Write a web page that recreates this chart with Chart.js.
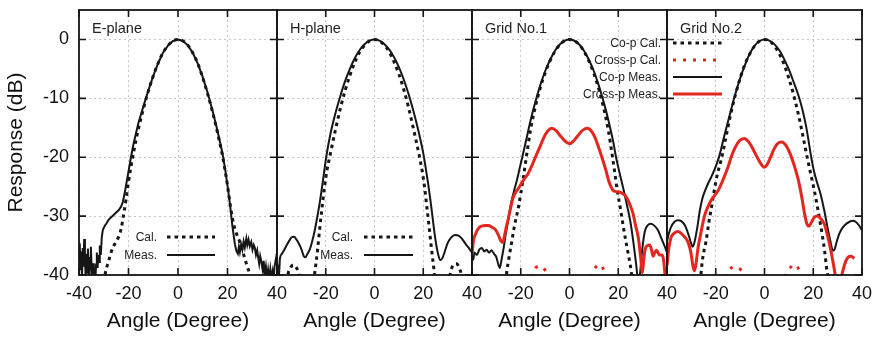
<!DOCTYPE html>
<html>
<head>
<meta charset="utf-8">
<title>Radiation patterns</title>
<script src="https://cdn.jsdelivr.net/npm/chart.js@4.4.1/dist/chart.umd.min.js"></script>
<style>
  body { margin: 0; background: #fff; }
  #wrap { position: relative; width: 877px; height: 338px; }
  #wrap canvas { position: absolute; left: 0; top: 0; }
</style>
</head>
<body>
<div id="wrap">
  <canvas id="panel0" width="877" height="338"></canvas>
  <canvas id="panel1" width="877" height="338"></canvas>
  <canvas id="panel2" width="877" height="338"></canvas>
  <canvas id="panel3" width="877" height="338"></canvas>
</div>
<script>
const panelNames = ["E-plane", "H-plane", "Grid No.1", "Grid No.2"];
const angleTicks = [-40, -20, 0, 20, 40];
const responseTicks = [-40, -30, -20, -10, 0];

// [angle (deg), response (dB)] pairs; null breaks the line
const ePlaneCal = [[-31,-45],[-29.5,-40],[-28,-37.6],[-26.5,-35.5],[-24.5,-34.0],[-23,-32.2],[-22,-29.8],[-21,-27.2],[-20,-24.2],[-19,-21.6],[-18,-19.3],[-16,-15.2],[-14,-11.8],[-12,-8.8],[-10,-6.2],[-8,-4.0],[-6,-2.2],[-4,-1.0],[-2,-0.25],[0,0],[2,-0.25],[4,-1.0],[6,-2.3],[8,-4.1],[10,-6.5],[12,-9.3],[14,-12.4],[16,-15.9],[18,-19.8],[19,-22.2],[20,-24.8],[21,-27.8],[22,-30.4],[23,-32.2],[24,-33.4],[25,-34.4],[26,-35.8],[27,-37.2],[28,-38.6],[29,-40],[30.5,-45]];
const ePlaneMeas = [[-40,-37.5],[-39.7,-34.6],[-39.4,-39.2],[-39.1,-36.0],[-38.8,-40.6],[-38.5,-35.4],[-38.2,-38.6],[-37.9,-33.9],[-37.6,-37.2],[-37.3,-40.6],[-37.0,-36.4],[-36.7,-39.6],[-36.4,-35.5],[-36.1,-38.2],[-35.8,-41],[-35.5,-37.1],[-35.2,-35.2],[-34.9,-38.6],[-34.6,-40.6],[-34.3,-38.0],[-34.0,-41],[-33.7,-39.4],[-33.4,-41],[-33.1,-38.2],[-32.8,-36.2],[-32.5,-38.8],[-32.2,-36.6],[-31.9,-37.8],[-31.6,-35.0],[-31.2,-36.6],[-30.8,-33.6],[-30.4,-32.4],[-30,-32.0],[-29.5,-31.6],[-29,-31.3],[-28,-30.6],[-27,-30.2],[-26,-29.8],[-25,-29.4],[-24,-29.0],[-23,-28.4],[-22.3,-27.6],[-21.5,-26.0],[-21,-24.8],[-20,-22.4],[-19,-20.0],[-18,-17.8],[-16,-14.2],[-14,-11.4],[-12,-8.7],[-10,-6.2],[-8,-4.0],[-6,-2.2],[-4,-1.0],[-2,-0.25],[0,0],[2,-0.25],[4,-1.0],[6,-2.3],[8,-4.1],[10,-6.4],[12,-9.1],[14,-12.2],[16,-15.6],[18,-19.4],[19,-21.9],[20,-24.8],[21,-28.0],[22,-31.8],[23,-34.8],[23.6,-35.9],[24.2,-36.4],[24.6,-35.2],[25,-36.1],[25.5,-34.8],[26,-35.7],[26.5,-34.3],[27,-35.3],[27.6,-33.8],[28,-34.9],[28.5,-34.0],[29,-35.1],[29.6,-34.4],[30.1,-35.7],[30.6,-34.9],[31,-35.3],[31.5,-36.6],[32,-35.8],[32.4,-37.0],[32.8,-38.1],[33.2,-36.8],[33.7,-37.8],[34.2,-39.1],[34.6,-37.6],[35,-39.8],[35.5,-38.5],[36,-40.6],[36.4,-39.2],[36.8,-40.8],[37.3,-39.0],[37.7,-40.6],[38.2,-39.4],[38.6,-41],[39,-38.6],[39.5,-37.4],[40,-36.2]];

const hPlaneCal = [[-36.5,-45],[-35.5,-40],[-34.5,-38.8],[-33.3,-38.3],[-32.3,-38.6],[-31.2,-39.6],[-30.3,-41.5],[-29.5,null],[-25.5,-45],[-24.6,-40],[-24,-38],[-23.3,-35.5],[-22.5,-32.2],[-21.5,-28.5],[-20.5,-25.0],[-19.5,-22.2],[-18.3,-19.8],[-16,-15.3],[-14,-11.7],[-12,-8.6],[-10,-6.0],[-8,-3.8],[-6,-2.1],[-4,-0.95],[-2,-0.24],[0,0],[2,-0.24],[4,-0.95],[6,-2.1],[8,-3.8],[10,-5.9],[12,-8.5],[14,-11.6],[16,-15.2],[18.4,-19.8],[19.5,-22.2],[20.5,-25.0],[21.5,-28.5],[22.5,-32.2],[23.5,-36],[24.6,-40],[25.5,-45],[29.5,null],[30.3,-41.5],[31.4,-39.2],[32.6,-38.2],[33.8,-38.1],[34.8,-38.9],[35.8,-40.5],[36.6,-45]];
const hPlaneMeas = [[-40,-37.6],[-39.8,-40.6],[-39.5,-38.4],[-39.2,-40.2],[-38.8,-37.2],[-38,-36.4],[-37,-35.7],[-36,-34.9],[-35,-34.2],[-34,-33.6],[-33,-33.5],[-32,-34.0],[-31,-34.7],[-30,-35.6],[-29,-36.8],[-28.3,-37.0],[-27.5,-36.4],[-26.5,-35.6],[-25.5,-34.2],[-24.5,-32.4],[-23.5,-30.2],[-22.5,-27.8],[-21.5,-25.0],[-20.5,-22.0],[-19.5,-19.2],[-18,-15.9],[-16,-12.5],[-14,-9.6],[-12,-7.0],[-10,-4.9],[-8,-3.1],[-6,-1.75],[-4,-0.78],[-2,-0.2],[0,0],[2,-0.2],[4,-0.76],[6,-1.7],[8,-3.0],[10,-4.7],[12,-6.8],[14,-9.3],[16,-12.2],[18,-15.5],[20,-19.3],[21,-21.8],[22,-24.5],[23,-27.5],[24,-30.8],[25,-34.0],[26,-36.3],[27,-37.5],[28,-37.0],[29,-35.8],[30,-34.6],[31.5,-33.6],[33,-33.2],[34.5,-33.3],[36,-33.9],[37.5,-34.8],[39,-35.6],[40,-36.2]];

const grid1CoCal = [[-27,-45],[-25.8,-39.7],[-24.8,-37],[-23.8,-34.6],[-22.5,-31.5],[-21,-28.6],[-20,-26.2],[-19,-23.6],[-18,-20.8],[-16,-15.4],[-14,-11.4],[-12,-8.2],[-10,-5.7],[-8,-3.65],[-6,-2.05],[-4,-0.9],[-2,-0.23],[0,0],[2,-0.23],[4,-0.9],[6,-2.05],[8,-3.7],[10,-5.8],[12,-8.4],[14,-11.6],[16,-15.6],[17.5,-19.6],[18.5,-22.4],[19.5,-25.4],[21,-29],[22,-31.6],[23,-34],[24.1,-36.4],[25.4,-39.7],[26.5,-45]];
const grid1CrossCal = [[-17,-42],[-15.5,-40],[-14,-38.8],[-12,-38.5],[-10.5,-38.9],[-9,-40],[-7.5,-42],[0,null],[7.5,-42],[9,-40],[10.5,-38.8],[12.3,-38.2],[13.5,-38.7],[14.8,-40],[16,-42]];
const grid1CoMeas = [[-40,-36.8],[-39.5,-37.4],[-39,-36.2],[-38,-36.6],[-37,-35.7],[-36,-35.4],[-35,-36.0],[-34,-35.7],[-33,-36.2],[-32,-35.8],[-31,-36.4],[-30,-37.0],[-29.2,-38.2],[-28.6,-38.8],[-27.8,-37.2],[-27,-35.4],[-26.2,-33.2],[-25.1,-30.6],[-24,-27.9],[-22.8,-25.8],[-21.5,-23.8],[-20.3,-21.6],[-19.5,-20.2],[-18,-17.5],[-16,-13.8],[-14,-10.6],[-12,-7.8],[-10,-5.4],[-8,-3.5],[-6,-1.95],[-4,-0.86],[-2,-0.22],[0,0],[2,-0.22],[4,-0.86],[6,-1.95],[8,-3.5],[10,-5.4],[12,-7.8],[14,-10.6],[16,-13.8],[18,-17.5],[19,-19.8],[20.5,-22.6],[22,-25.2],[23.5,-28.0],[25,-31.0],[26.2,-34.4],[27.4,-38.4],[28.2,-41],[29,-39.5],[29.8,-35.8],[30.9,-32.6],[32,-31.6],[33.4,-31.3],[35,-31.7],[36.3,-32.4],[37.7,-33.8],[39.1,-35.2],[40,-36.2]];
const grid1CrossMeas = [[-40,-36.6],[-39.5,-34.4],[-38.5,-33.0],[-37.2,-32.0],[-36,-31.7],[-34.5,-31.6],[-33.3,-31.6],[-31.8,-31.9],[-30.4,-32.3],[-29.2,-33.2],[-28.2,-34.2],[-27.4,-34.5],[-26.6,-33.2],[-25.8,-31.6],[-25.1,-30.4],[-24,-28.3],[-23.1,-26.8],[-22,-25.9],[-20.8,-25.2],[-19.5,-24.3],[-18.2,-23.5],[-17,-22.8],[-15.4,-21.4],[-13.8,-19.8],[-12.2,-18.3],[-10.6,-16.7],[-9,-15.6],[-7.2,-15.1],[-5.5,-15.5],[-3.5,-16.5],[-1.5,-17.4],[0,-17.7],[1.5,-17.3],[3.5,-16.3],[5.5,-15.4],[7.4,-15.1],[9.2,-15.7],[10.6,-16.8],[12,-18.4],[13.5,-20.3],[15,-22.3],[16,-23.9],[17,-25.0],[17.8,-25.6],[18.8,-25.8],[20.1,-25.9],[21.5,-26.1],[22.8,-26.5],[24,-27.3],[25.2,-28.5],[26.1,-29.6],[27,-31.4],[28.2,-33.6],[29.2,-37.0],[29.9,-39.6],[30.5,-37.2],[31,-35.7],[32,-35.0],[32.9,-34.9],[33.7,-35.8],[34.3,-36.8],[35,-36.2],[35.7,-35.8],[36.4,-36.3],[37,-36.6],[37.8,-36.6],[38.5,-37.2],[39.2,-40],[39.8,-43]];

const grid2CoCal = [[-27,-45],[-26.1,-40],[-25.3,-37],[-24,-34.3],[-22.8,-31],[-21.8,-28.6],[-20.6,-25.6],[-19.3,-22.8],[-17.8,-20.5],[-16,-17.0],[-14,-12.9],[-12,-9.5],[-10,-6.6],[-8,-4.2],[-6,-2.4],[-4,-1.06],[-2,-0.26],[0,0],[2,-0.26],[4,-1.06],[6,-2.4],[8,-4.2],[10,-6.6],[12,-9.5],[14,-12.9],[16,-16.9],[17.8,-20.6],[19,-22.9],[20.4,-25.6],[21.7,-28.4],[22.8,-31],[23.8,-33.5],[24.7,-36],[25.4,-38.6],[26.2,-41],[27,-45]];
const grid2CrossCal = [[-17.5,-42],[-15.8,-40],[-14,-38.9],[-12,-38.6],[-10,-39],[-8.3,-40],[-7,-42],[0,null],[7.5,-42],[8.8,-40],[10.5,-38.8],[12.3,-38.2],[13.5,-38.6],[14.9,-40],[16.2,-42]];
const grid2CoMeas = [[-40,-34.3],[-39.2,-32.9],[-38.4,-31.9],[-37,-31.0],[-35.5,-30.7],[-34,-30.9],[-32.6,-31.6],[-31.3,-33.0],[-30.2,-34.5],[-29.5,-35.2],[-28.7,-34.4],[-27.6,-32.0],[-26.5,-29.0],[-25.4,-26.9],[-24.3,-25.6],[-23.2,-24.5],[-22,-23.5],[-20.6,-22.2],[-19.5,-21.0],[-18.4,-19.6],[-17,-17.2],[-15.5,-14.8],[-14,-12.4],[-12,-9.3],[-10,-6.6],[-8,-4.3],[-6,-2.4],[-4,-1.05],[-2,-0.26],[0,0],[2,-0.2],[4,-0.8],[6,-1.8],[8,-3.3],[10,-5.1],[12,-7.3],[14,-9.6],[15.5,-11.8],[17,-14.6],[18,-17.0],[19,-19.6],[20.2,-22.2],[21.5,-24.2],[23.1,-26.4],[24.5,-29],[25.8,-31.8],[27,-34.2],[28.1,-35.9],[28.8,-35.6],[29.6,-34.4],[30.5,-33.2],[31.5,-32.3],[33,-31.5],[34.7,-31.0],[36.2,-30.8],[37.5,-31.0],[38.8,-31.6],[40,-32.4]];
const grid2CrossMeas = [[-40,-38.4],[-39.3,-35.6],[-38.4,-33.7],[-37,-32.9],[-35.5,-32.6],[-34,-33.0],[-32.6,-33.6],[-31.3,-34.5],[-30.2,-36.2],[-29.3,-38.6],[-28.7,-39.3],[-28,-37.8],[-27.2,-35.2],[-26.3,-33.3],[-25.4,-31.4],[-24.5,-29.8],[-23.4,-28.6],[-22,-27.4],[-20.3,-26.4],[-18.8,-25.5],[-17.5,-24.3],[-16.2,-23.0],[-15,-21.7],[-13.5,-19.8],[-12,-18.3],[-10.3,-17.2],[-8.3,-16.8],[-6.5,-17.4],[-4.5,-18.8],[-2.5,-20.4],[-1,-21.4],[0,-21.7],[1,-21.3],[2.5,-20.0],[3.7,-18.8],[5.3,-17.7],[7.1,-17.4],[8.8,-18.0],[10.5,-19.4],[12.2,-21.4],[13.9,-23.9],[15.3,-26.8],[16.4,-29.5],[17.3,-31.2],[18.3,-31.7],[19.3,-31.0],[20.5,-30.2],[21.7,-30.0],[23,-30.4],[24.5,-31.3],[25.8,-33.2],[27.2,-35.8],[28.2,-38],[28.9,-39.7],[29.6,-41.5],[31,-41.5],[32,-39.5],[33.4,-37.6],[34.5,-36.9],[35.6,-36.8],[36.8,-37.2]];

const FONT = "'Liberation Sans', Arial, Helvetica, sans-serif";
const BLACK = "#161616";
const RED = "#e3261e";

const lineStyles = {
  coCal: { borderColor: BLACK, borderWidth: 3, borderDash: [3.5, 4] },
  crossCal: { borderColor: RED, borderWidth: 3, borderDash: [3, 7] },
  coMeas: { borderColor: BLACK, borderWidth: 2 },
  crossMeas: { borderColor: RED, borderWidth: 3 },
};

// plot-area edges in page pixels
const panelLeft = [79, 277, 472, 667];
const panelRight = [277, 472, 667, 862];

const panels = [
  {
    series: [
      { label: "Cal.", data: ePlaneCal, style: "coCal" },
      { label: "Meas.", data: ePlaneMeas, style: "coMeas", raw: true },
    ],
    legend: { textRight: 157, lineFrom: 167, lineTo: 215, rows: [237, 255] },
  },
  {
    series: [
      { label: "Cal.", data: hPlaneCal, style: "coCal" },
      { label: "Meas.", data: hPlaneMeas, style: "coMeas" },
    ],
    legend: { textRight: 353, lineFrom: 364, lineTo: 413, rows: [237, 255] },
  },
  {
    series: [
      { label: "Co-p Cal.", data: grid1CoCal, style: "coCal" },
      { label: "Cross-p Cal.", data: grid1CrossCal, style: "crossCal" },
      { label: "Co-p Meas.", data: grid1CoMeas, style: "coMeas" },
      { label: "Cross-p Meas.", data: grid1CrossMeas, style: "crossMeas" },
    ],
  },
  {
    series: [
      { label: "Co-p Cal.", data: grid2CoCal, style: "coCal" },
      { label: "Cross-p Cal.", data: grid2CrossCal, style: "crossCal" },
      { label: "Co-p Meas.", data: grid2CoMeas, style: "coMeas" },
      { label: "Cross-p Meas.", data: grid2CrossMeas, style: "crossMeas" },
    ],
    legend: { textRight: 661, lineFrom: 673, lineTo: 722, rows: [43, 60, 77, 94] },
  },
];

// frame, inward ticks, panel name and key
const decorations = {
  id: "decorations",
  afterDraw(chart, args, opts) {
    const { ctx, chartArea: a, scales } = chart;
    const panel = panels[opts.index];
    ctx.save();
    ctx.strokeStyle = BLACK;
    ctx.lineWidth = 1.6;
    ctx.beginPath();
    angleTicks.forEach((v) => {
      const px = scales.x.getPixelForValue(v);
      ctx.moveTo(px, a.bottom); ctx.lineTo(px, a.bottom - 7);
      ctx.moveTo(px, a.top); ctx.lineTo(px, a.top + 7);
    });
    responseTicks.forEach((v) => {
      const py = scales.y.getPixelForValue(v);
      ctx.moveTo(a.left, py); ctx.lineTo(a.left + 7, py);
      ctx.moveTo(a.right, py); ctx.lineTo(a.right - 7, py);
    });
    ctx.stroke();
    ctx.lineWidth = 1.8;
    ctx.strokeRect(a.left, a.top, a.right - a.left, a.bottom - a.top);

    ctx.fillStyle = "#222";
    ctx.font = "14.5px " + FONT;
    ctx.textBaseline = "middle";
    ctx.textAlign = "left";
    ctx.fillText(panelNames[opts.index], a.left + 13, 29);

    const key = panel.legend;
    if (key) {
      ctx.font = "12px " + FONT;
      ctx.textAlign = "right";
      panel.series.forEach((s, i) => {
        const y = key.rows[i];
        const st = lineStyles[s.style];
        ctx.fillStyle = "#222";
        ctx.fillText(s.label, key.textRight, y + 1);
        ctx.beginPath();
        ctx.strokeStyle = st.borderColor;
        ctx.lineWidth = st.borderWidth;
        ctx.setLineDash(st.borderDash || []);
        ctx.moveTo(key.lineFrom, y);
        ctx.lineTo(key.lineTo, y);
        ctx.stroke();
        ctx.setLineDash([]);
      });
    }
    ctx.restore();
  },
};

const drawOrder = { crossMeas: 0, coMeas: 1, crossCal: 2, coCal: 3 };

panels.forEach((panel, index) => {
  const datasets = panel.series.map((s) => ({
    label: s.label,
    data: s.data.map(([x, y]) => ({ x, y })),
    ...lineStyles[s.style],
    borderCapStyle: "butt",
    pointRadius: 0,
    fill: false,
    spanGaps: false,
    cubicInterpolationMode: s.raw ? "default" : "monotone",
    order: drawOrder[s.style],
  }));

  new Chart(document.getElementById("panel" + index), {
    type: "line",
    data: { datasets },
    plugins: [decorations],
    options: {
      responsive: false,
      animation: false,
      events: [],
      layout: {
        padding: {
          left: index === 0 ? 0 : panelLeft[index],
          right: 877 - panelRight[index],
          top: 10,
          bottom: 0,
        },
      },
      plugins: {
        legend: { display: false },
        tooltip: { enabled: false },
        decorations: { index },
      },
      scales: {
        x: {
          type: "linear",
          min: -40,
          max: 40,
          afterBuildTicks: (scale) => {
            scale.ticks = angleTicks.map((v) => ({ value: v }));
          },
          afterFit: (scale) => {
            scale.height = 63;
            scale.paddingLeft = 0;
            scale.paddingRight = 0;
          },
          ticks: {
            padding: 8,
            color: "#111",
            font: { family: FONT, size: 18 },
            maxRotation: 0,
            callback: (v) => (index > 0 && v === -40 ? "" : String(v)),
          },
          grid: { color: "#c4c4c4", lineWidth: 1, drawTicks: false },
          border: { display: false, dash: [2, 3] },
          title: {
            display: true,
            text: "Angle (Degree)",
            color: "#111",
            font: { family: FONT, size: 21 },
            padding: { top: 0, bottom: 4 },
          },
        },
        y: {
          min: -40,
          max: 5,
          afterBuildTicks: (scale) => {
            scale.ticks = responseTicks.map((v) => ({ value: v }));
          },
          afterFit: (scale) => {
            scale.width = index === 0 ? 79 : 0;
            scale.paddingTop = 0;
            scale.paddingBottom = 0;
          },
          ticks: {
            display: index === 0,
            padding: 10,
            color: "#111",
            font: { family: FONT, size: 18 },
          },
          grid: { color: "#c4c4c4", lineWidth: 1, drawTicks: false },
          border: { display: false, dash: [2, 3] },
          title: {
            display: index === 0,
            text: "Response (dB)",
            color: "#111",
            font: { family: FONT, size: 21 },
            padding: { top: 4, bottom: 0 },
          },
        },
      },
    },
  });
});
</script>
</body>
</html>
